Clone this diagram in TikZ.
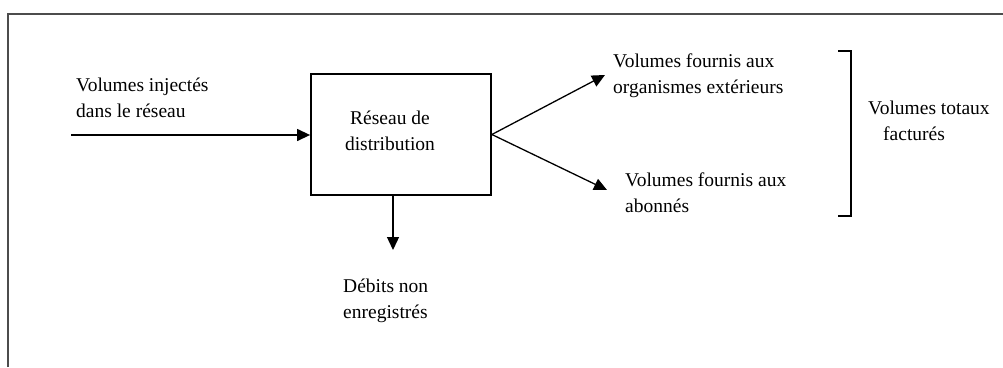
\documentclass[tikz,border=0pt]{standalone}
\usepackage{fontspec}
\setmainfont{Liberation Serif}
\usetikzlibrary{arrows.meta}
\begin{document}
\begin{tikzpicture}[x=1pt,y=-1pt,
  lbl/.style={inner sep=0pt, font=\fontsize{19.5}{25.5}\selectfont},
  flow/.style={line width=1.3pt, -{Triangle[length=13pt,width=12pt]}},
  boxnode/.style={draw, line width=1.8pt, minimum width=180pt, minimum height=121pt, inner sep=0pt}]
\useasboundingbox (0,0) rectangle (1003,367);
% frame
\draw[line width=2pt, black!70] (8,367) -- (8,14) -- (1003,14);
% main box
\node[boxnode] (box) at (401,134.5) {};
\node[lbl, align=center] (boxtext) at (390,131) {Réseau de\\distribution};
% labels
\node[lbl, align=left, anchor=west] (inj) at (76,98) {Volumes injectés\\dans le réseau};
\node[lbl, align=left, anchor=west] (ext) at (613,75.5) {Volumes fournis aux\\organismes extérieurs};
\node[lbl, align=left, anchor=west] (abo) at (625,192.5) {Volumes fournis aux\\abonnés};
\node[lbl, align=left, anchor=west] (tot) at (868,121) {Volumes totaux\\\hspace*{15pt}facturés};
\node[lbl, align=left, anchor=west] (deb) at (343,301) {Débits non\\enregistrés};
% coordinates
\coordinate (instart) at (71,135);
\coordinate (extend) at (605,75);
\coordinate (aboend) at (607,190);
\coordinate (downend) at (393,250);
% connectors
\draw[flow] (instart) -- (box.west |- instart);
\draw[flow] (box.east) -- (extend);
\draw[flow] (box.east) -- (aboend);
\draw[flow] (box.south -| downend) -- (downend);
% bracket
\draw[line width=1.6pt] (838,51) -- (851,51) -- (851,216) -- (838,216);
\end{tikzpicture}
\end{document}
